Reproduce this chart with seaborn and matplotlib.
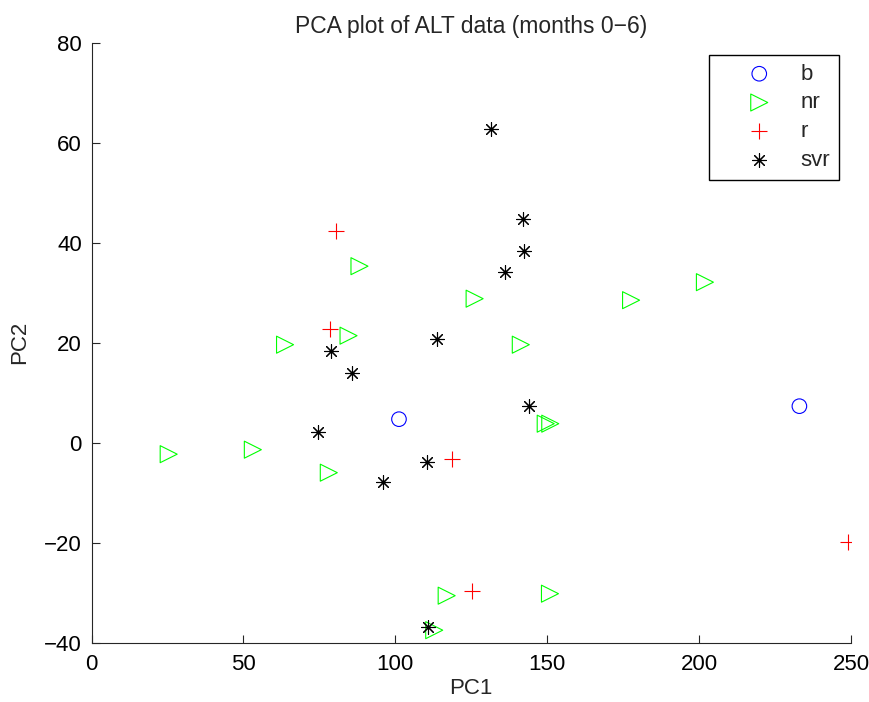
import matplotlib
matplotlib.use("Agg")
import matplotlib.pyplot as plt
import seaborn as sns
import pandas as pd

# ---- data ----
b_x = [101.2, 233.0]
b_y = [4.7, 7.3]

nr_x = [88.2, 84.6, 63.7, 25.4, 53.1, 78.1, 126.1, 177.6, 141.3, 201.9, 149.5, 151.0, 116.9, 150.9, 112.8]
nr_y = [35.3, 21.4, 19.6, -2.3, -1.4, -6.0, 28.8, 28.5, 19.6, 32.1, 3.8, 3.8, -30.6, -30.2, -37.5]

r_x = [80.5, 78.6, 118.7, 125.4, 249.0]
r_y = [42.3, 22.8, -3.2, -29.6, -19.9]

svr_x = [78.8, 85.9, 131.6, 141.9, 142.3, 136.2, 113.6, 74.6, 96.1, 144.0, 110.4, 110.7]
svr_y = [18.4, 13.9, 62.7, 44.7, 38.3, 34.2, 20.7, 2.2, -7.8, 7.3, -3.8, -36.8]

x_ticks = [0, 50, 100, 150, 200, 250]
y_ticks = [-40, -20, 0, 20, 40, 60, 80]

sns.set_theme(style="white")
plt.rcParams['font.family'] = ['Liberation Sans', 'DejaVu Sans']

fig = plt.figure(figsize=(8.7, 7.02), dpi=100)
ax = fig.add_axes([0.1052, 0.0845, 0.873, 0.8547])

groups = [
    ("b", b_x, b_y, "o", "#0000ff", 110, True, 0.8),
    ("nr", nr_x, nr_y, ">", "#00ff00", 150, True, 0.8),
    ("r", r_x, r_y, "+", "#ff0000", 130, False, 0.8),
    ("svr", svr_x, svr_y, (8, 2, 0), "#000000", 100, False, 0.8),
]
for name, xs, ys, mk, col, s, hollow, lw in groups:
    df = pd.DataFrame({"x": xs, "y": ys})
    if hollow:
        sns.scatterplot(data=df, x="x", y="y", marker=mk, s=s, ax=ax,
                        facecolor="none", edgecolor=col, linewidth=lw,
                        label=name, zorder=3)
    else:
        sns.scatterplot(data=df, x="x", y="y", marker=mk, s=s, ax=ax,
                        color=col, linewidth=lw, label=name, zorder=3)

ax.set_xlim(0, 250)
ax.set_ylim(-40, 80)
ax.set_xticks(x_ticks)
ax.set_yticks(y_ticks)
ax.tick_params(direction="in", length=5.5, width=0.8, colors="#262626",
               labelsize=16, labelcolor="black")
ax.tick_params(axis="x", bottom=True, pad=8)
ax.tick_params(axis="y", left=True, pad=7)
for side in ["top", "right"]:
    ax.spines[side].set_visible(False)
for side in ["left", "bottom"]:
    ax.spines[side].set_color("#262626")
    ax.spines[side].set_linewidth(0.8)

ax.set_xlabel("PC1", fontsize=16, labelpad=2)
ax.set_ylabel("PC2", fontsize=16, labelpad=10)
ax.set_title("PCA plot of ALT data (months 0\u22126)", fontsize=16.5, pad=7)

leg = ax.legend(loc="upper right", bbox_to_anchor=(0.984, 0.98),
                borderaxespad=0, fontsize=16,
                frameon=True, fancybox=False, edgecolor="black",
                handletextpad=0.0, borderpad=0.4, labelspacing=0.35,
                handlelength=3.7)
leg.get_frame().set_linewidth(1.0)
leg.get_frame().set_alpha(1)

fig.savefig("out.png", dpi=100, facecolor="white")
